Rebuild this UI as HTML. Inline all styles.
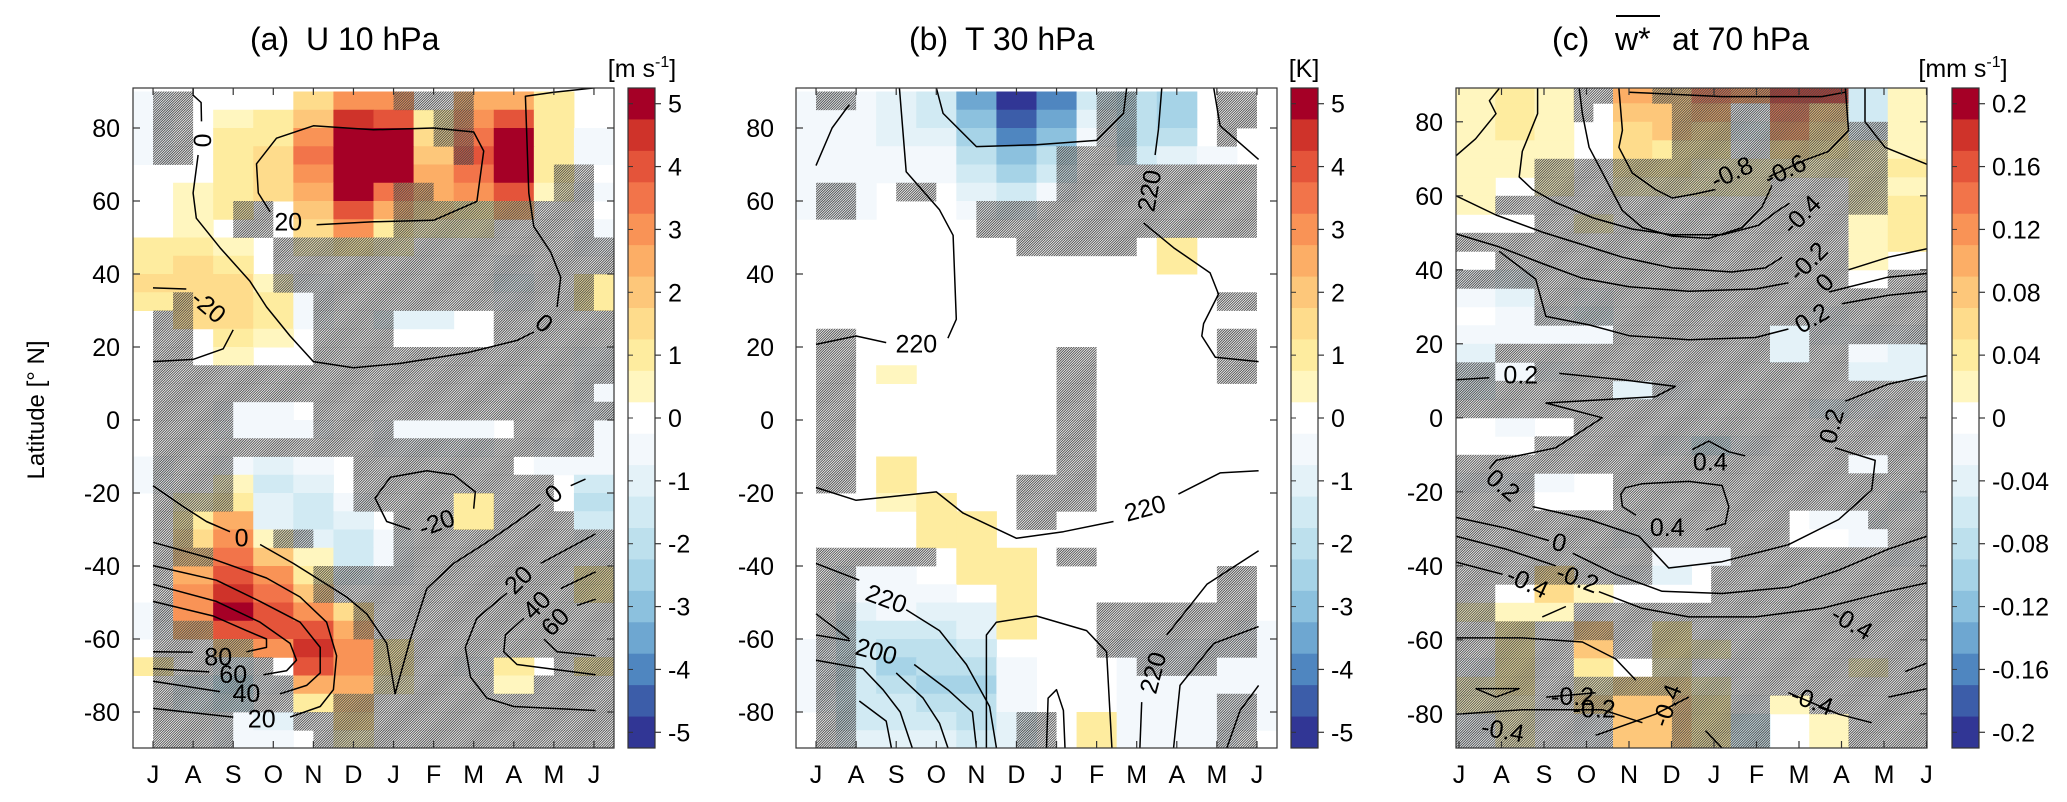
<!DOCTYPE html>
<html><head><meta charset="utf-8"><style>
html,body{margin:0;padding:0;background:#fff;}
svg{display:block;font-family:"Liberation Sans",Arial,sans-serif;}
</style></head><body>
<svg id="fig" width="2067" height="802" viewBox="0 0 2067 802" xmlns="http://www.w3.org/2000/svg">
<defs>
<pattern id="hatch" patternUnits="userSpaceOnUse" width="1.75" height="10" patternTransform="rotate(45)">
<rect x="0" y="0" width="0.95" height="10" fill="#4e4e4e"/>
</pattern>
<clipPath id="clipA"><rect x="133" y="88" width="481" height="660"/></clipPath>
<clipPath id="clipB"><rect x="796" y="88" width="481" height="660"/></clipPath>
<clipPath id="clipC"><rect x="1456" y="88" width="471" height="660"/></clipPath>
</defs>
<text x="0" y="0" font-size="24" text-anchor="middle" transform="translate(44,410) rotate(-90)">Latitude [° N]</text>
<g>
<text x="250" y="50" font-size="32">(a)</text>
<text x="306" y="50" font-size="32">U 10 hPa</text>
</g>
<g>
<text x="909" y="50" font-size="32">(b)</text>
<text x="965" y="50" font-size="32">T 30 hPa</text>
</g>
<g>
<text x="1552" y="50" font-size="32">(c)</text>
<text x="1615" y="50" font-size="32">w*</text>
<line x1="1616" y1="16" x2="1660" y2="16" stroke="#000" stroke-width="2"/>
<text x="1672" y="50" font-size="32">at 70 hPa</text>
</g>
<text x="642" y="77" font-size="25" text-anchor="middle">[m s<tspan font-size="16" dy="-10">-1</tspan><tspan dy="10">]</tspan></text>
<text x="1304" y="77" font-size="25" text-anchor="middle">[K]</text>
<text x="1963" y="77" font-size="25" text-anchor="middle">[mm s<tspan font-size="16" dy="-10">-1</tspan><tspan dy="10">]</tspan></text>
</svg>
<script>
// ---------- DATA ----------
const months = ['J','A','S','O','N','D','J','F','M','A','M','J'];
const latTicks = [80,60,40,20,0,-20,-40,-60,-80];
const cbTicksAB = [5,4,3,2,1,0,-1,-2,-3,-4,-5];
const cbTicksC = [0.2,0.16,0.12,0.08,0.04,0,-0.04,-0.08,-0.12,-0.16,-0.2];
const cbLabelsC = ['0.2','0.16','0.12','0.08','0.04','0','-0.04','-0.08','-0.12','-0.16','-0.2'];

// Panel (a) U anomaly [m/s], rows 90N->90S (5 deg), cols Jul..Jun
const uData = [
[-0.5,0,0,0,1.5,3,3,0,2.5,2.5,1,0],
[-0.5,0,0.5,1,2,4.5,4,1,3,4,1,0],
[-0.5,0,1,1,3,5,5,1.5,3.5,5,1,-0.5],
[-0.5,0,1,1.5,3.5,5,5,2,4,5,1,-0.5],
[0,0,1,1.5,3,5,5,2.5,3.5,5,1,0],
[0,0.5,1,1.5,2.5,5,3.5,2.5,3,4,0.5,-0.5],
[0,0.5,1,0,2,4,2.5,1.5,1,2.5,0,0],
[0,0.5,0,0,1.5,3,1,0.5,0.5,0,0,-0.5],
[1,1,0.5,0,0.5,1,0.5,0,0,0,0,-0.5],
[1,1.5,1,0,0,0,0,0,0,-0.5,0,0],
[1.5,1.5,1.5,0.5,-0.5,0,0,0,0,-1,0,1],
[1,1.5,1.5,1,-0.5,0,0,0,0,-0.5,0,1],
[0,1.5,1.5,1,-0.5,0,-1,-1,0,0,0,0],
[0,0,1,0.5,0,0,0,0,0,0,0,0],
[0,0,0.5,0,0,0,0,0,0,0,0,-0.5],
[0,0,0,0,0,0,0,0,0,0,0,-0.5],
[0,0,0,0,0,0,0,0,0,0,0,-0.5],
[0,0,-0.5,-0.5,0,0,0,0,0,0,0,-0.5],
[0,0,-0.5,-0.5,-0.5,0,-0.5,-0.5,-0.5,0,0,-0.5],
[0,0,0,0,0,0,-0.5,-0.5,-0.5,0,-0.5,-0.5],
[-0.5,0,-0.5,-1,-0.5,0,0,0,0,0,-0.5,-0.5],
[-0.5,0,0.5,-1.5,-1,0,0,0,0,0,0,-1.5],
[0,0.5,1,-1,-1.5,-0.5,0,0,1,0,0,-2],
[0,1,2.5,-1,-1.5,-1,0,0,1,0,0,-1.5],
[0,1.5,3,0.5,-1,-1.5,-0.5,0,0,0,0,-0.5],
[0,2,3.5,2,0.5,-1.5,-0.5,0,0,0,0,0],
[0,2.5,4,3,1,-1,-0.5,0,0,0,0,1],
[0,3,4.5,3.5,2,0,0,0,0,0,0,1],
[-0.5,3,5,4,3,1.5,0,0,0,0,0,0],
[-0.5,2.5,4,4,4,2.5,0,0,0,0,0,0],
[0,0,2,3,4.5,3,1,0,0,0,0,0],
[1,0,-1,0,4,3,1,0,-0.5,1,0,1],
[0,-1,-2,-0.5,2.5,2.5,0.5,0,0,0.5,0,0],
[0,-1,-1.5,0,1,2,0,0,0,0,0,0],
[0,0,-0.5,-1,0,1.5,0,0,0,0,0,0],
[0,0,-0.5,-0.5,0,0.5,0,0,0,0,0,0]
];
const uSig = [
"011000000000011110000000","011000000000000110000000","011000000000000110000000","011000000000000010000000",
"000000000000000000000110","000000000000011000000110","000001100000011111111110","000001100000011111111110",
"000000011111111111111111","000000011111111111111111","000000011111111111111110","001000000111111111111110",
"011000000111100000111111","011000000111100000111111","011000000111111111111111","011111111111111111111111",
"011111111111111111111110","011110000111111111111111","011110000111100000011110","011111111111111111111110",
"011110000001111111100000","011110000001111111111000","011110000001111100111000","011000000000011100111100",
"011000011000011111111111","011100000000011111111111","010000000111111111111111","010000000111111111111111",
"010000000001111111111111","011100000001111111111111","011111000000111111111111","011111100000111111000111",
"011111110000111111001111","011111110011111111111111","011110001111111111111111","011110000111111111111111"
];
// Panel (b) T anomaly [K]
const tData = [
[-0.5,-0.5,-1,-1.5,-3.5,-5,-4,-1.5,-2,-2.5,0,0],
[-0.5,-0.5,-1,-1.5,-3,-4.5,-3.5,-1,-2,-2.5,0,0],
[-0.5,-0.5,-1,-1,-2.5,-4,-3,-0.5,-2,-2,0,0],
[-0.5,-0.5,-0.5,-0.5,-2,-3,-2,0,-1.5,-1,-0.5,0],
[-0.5,-0.5,-0.5,-0.5,-1.5,-2.5,-1.5,0,0,0,0,0],
[-0.5,-0.5,0,0,-1,-1.5,-0.5,0,0,0,0,0],
[-0.5,-0.5,0,0,-0.5,-1,0,0,0,0,0,0],
[0,0,0,0,0,0,0,0,0,0,0,0],
[0,0,0,0,0,0,0,0,0,1,0,0],
[0,0,0,0,0,0,0,0,0,1,0,0],
[0,0,0,0,0,0,0,0,0,0,0,0],
[0,0,0,0,0,0,0,0,0,0,0,0],
[0,0,0,0,0,0,0,0,0,0,0,0],
[0,0,0,0,0,0,0,0,0,0,0,0],
[0,0,0,0,0,0,0,0,0,0,0,0],
[0,0,0.5,0,0,0,0,0,0,0,0,0],
[0,0,0,0,0,0,0,0,0,0,0,0],
[0,0,0,0,0,0,0,0,0,0,0,0],
[0,0,0,0,0,0,0,0,0,0,0,0],
[0,0,0,0,0,0,0,0,0,0,0,0],
[0,0,1,0,0,0,0,0,0,0,0,0],
[0,0,1,0,0,0,0,0,0,0,0,0],
[0,0,0.5,1,0,0,0,0,0,0,0,0],
[0,0,0,1,1,0,0,0,0,0,0,0],
[0,0,0,1,1,0,0,0,0,0,0,0],
[0,0,0,0,1,1,0,0,0,0,0,0],
[0,-0.5,-0.5,0,1,1,0,0,0,0,0,0],
[0,-0.5,-0.5,-0.5,0,1,0,0,0,0,0,0],
[0,-1,-0.5,-1,-1,1,0,0,0,0,0,0],
[0,-1.5,-1.5,-1.5,-1,1,0,0,0,0,0,-0.5],
[-0.5,-1.5,-2,-2,-1.5,0,0,0,-0.5,-0.5,-0.5,-0.5],
[-0.5,-1.5,-2.5,-2,-2,-0.5,0,0,-0.5,-0.5,-0.5,-0.5],
[-0.5,-1.5,-2,-2.5,-2.5,-0.5,0,0,-0.5,-0.5,-0.5,-0.5],
[-0.5,-1.5,-1.5,-2,-2,-0.5,0,0,-0.5,-0.5,-0.5,-0.5],
[0,-1.5,-1.5,-1.5,-2,-1,0,1,-0.5,-0.5,-0.5,-0.5],
[0,-1,-1,-1,-1.5,-1,0,1,-0.5,-0.5,-0.5,0]
];
const tSig = [
"011000000000000110000110","000000000000000110000110","000000000000000110000100","000000000000011110000000",
"000000000000011111111110","011001100000011111111110","011000000111111111111110","000000000111111111111110",
"000000000001111110000000","000000000000000000000000","000000000000000000000000","000000000000000000000110",
"000000000000000000000000","011000000000000000000110","011000000000011000000110","011000000000011000000110",
"011000000000011000000000","011000000000011000000000","011000000000011000000000","011000000000011000000000",
"011000000000011000000000","011000000001111000000000","000000000001111000000000","000000000001100000000000",
"000000000000000000000000","011111100000011000000000","011000000000000000000110","011000000000000000000110",
"011000000000000111111110","011000000000000111111110","011000000000000111111110","011000000000000001111000",
"011000000000000000000000","011000000000000000000110","011000000001100000000110","011000000001100000000110"
];
// Panel (c) w* anomaly [mm/s]
const wData = [
[0.02,0.04,0.02,0,0.10,0.08,0.14,0.12,0.18,0.18,-0.06,0.02],
[0.02,0.04,0.02,0,0.08,0.08,0.10,-0.02,0.14,0.08,-0.06,0.02],
[0.02,0.04,0.02,0,0.06,0.08,0.06,-0.04,0.12,0.06,-0.04,0.02],
[0.02,0.02,0.02,0,0.06,0.04,0.04,-0.02,0.06,0.04,0.02,0.02],
[0.02,0.02,0.02,0,0.04,0.04,0.02,0.02,0.02,0.02,0.02,0.04],
[0.02,0,0.02,0,0.02,0.02,0.02,0.02,0,0,0.02,0.02],
[0.02,0,0,0,0,0,0,0,0,0,0.02,0.04],
[0,0,0,0.02,0,0,0,0,0,0,0.02,0.04],
[0,0,0,0,0,0,0,0,0,0,0.02,0.04],
[0,0,0,0,0,0,0,0,0,0,0.02,0],
[-0.02,-0.04,0,0,0,0,0,0,0,0,0,0],
[-0.02,-0.04,0,-0.02,0,0,0,0,0,0,0,0],
[0,-0.02,-0.02,-0.04,0,0,0,0,0,-0.02,0,0],
[-0.02,-0.02,-0.02,-0.02,0,0,0,0,-0.04,-0.02,-0.02,-0.02],
[-0.04,0,0,0,0,0,0,0,-0.04,0,-0.02,-0.04],
[-0.04,-0.02,-0.02,0,0,0,0,0,0,0,-0.04,-0.04],
[-0.04,0,0,0,-0.04,-0.02,0,0,0,0,0,0],
[0,0,0,0,0,0,0,0,0,-0.04,-0.02,0],
[0,-0.02,0,0,0,0,0,0,0,0,0,0],
[0,0,0,0,0,-0.02,-0.06,-0.02,0,0,0,0],
[0,0,0,0,0,0,0,0,0,0,-0.02,0],
[-0.02,-0.02,-0.02,0,0,0,0,0,0,0,0,0],
[0,0,0,0,0,0,0,0,0,0,0,-0.02],
[0,0,0,0,0,0,0,0,0,-0.02,-0.02,0],
[0,0,0,0,-0.02,0,0,0,0,0,-0.02,0],
[0,0,0,0,0,-0.02,-0.02,0,0,0,0,-0.02],
[0,0,0.06,0,-0.02,-0.04,0,0,0,0,0,0],
[0,0,0.06,0.02,0,0,0,0,0,0,0,0],
[0.02,0.02,0.02,0,0,0,0,0,0,0,0,0],
[0,0.04,0,0.08,0,0.04,0,0,0,0,0,0],
[0,0.04,0,0.08,0,0.04,0.02,0,0,0,0,0],
[-0.02,0.04,0,0.04,0,0.02,0,0,0,0,0.02,0],
[0.02,0.04,0,0.02,0.06,0.06,0.02,0,0,0,0,0],
[0.02,0.02,0,0.06,0.08,0.08,0.04,-0.02,0.02,0,0,0],
[-0.02,0.02,0,-0.02,0.08,0.08,0.04,-0.06,0,0.02,0,0],
[-0.02,0.02,0,-0.02,0.08,0.08,0.04,-0.06,0,0.02,0,0]
];
const wSig = [
"000000110011111111110000","000000100001111111110000","000000000001111111111100","000000000001111111111100",
"000011111111111111111100","000011111111111111111100","001111111111111111111100","000011111111111111110000",
"111111111111111111110000","001111111111111111110000","111111111111111111110011","000011111111111111111111",
"000011111111111111111111","000000001111111100111111","001111111111111100110000","110011111111111111110000",
"111111110011111111111111","111111111111111111111111","000000111111111111111111","000011111111111111111111",
"111111111111111111110011","111100001111111111111111","111100001111111111111111","111111111111111110000111",
"111111111111111110000011","111111111100001111111111","111111111100011111111111","110000000000011111111111",
"110000111111111111111111","111111111111111111111111","111111001111111111111111","111111000011111111111111",
"111111111111111111111111","111111110001111100111111","111111110001111100001111","111111110001111100001111"
];

// Contours: polylines of [monthIndex, latitude]
const uContours = [
[[1,91],[1.0,89],[1.2,87],[1.21,81.8]],
[[1.125,72.6],[1,62.2],[1.08,55.3],[1.67,47.2],[2.42,38],[2.83,31],[3.42,23],[4,16],[5,14.3],[6.17,15.5],[7.83,18.4],[9.08,21.8],[9.5,24.1]],
[[10.08,31],[10.17,39.1],[9.92,46],[9.5,53],[9.375,62.2],[9.29,88.7],[10,89.8],[11.04,91]],
[[4.08,53.5],[5.5,54.3],[7,54.7],[8.08,59.9],[8.25,73.7],[8,78.9],[7,80],[5.5,79.5],[4,80.6],[3.08,77.2],[2.58,70.2],[2.625,62.2],[2.92,57]],
[[0,36.2],[0.83,35.9]],
[[2,24.7],[1.75,19.5],[1,16.6],[0,16]],
[[0,-18],[0.75,-23.7],[1.33,-27.8],[1.92,-30.6]],
[[2.67,-34.1],[3.5,-39.3],[4.08,-43.3],[4.83,-48.5],[5.33,-53.1],[5.83,-61.2],[6.04,-75],[6.42,-60],[6.83,-46.2],[7.5,-39.3],[8.33,-33.5],[9.08,-27.8],[9.67,-23.1]],
[[10.42,-18],[10.79,-16.2]],
[[8,-24.3],[8.04,-19.7],[7.5,-15],[6.83,-13.9],[5.92,-15.7],[5.54,-21.4],[5.83,-27.8],[6.42,-30]],
[[0,-33.5],[1.5,-38.1],[2.83,-43.3],[3.67,-48.5],[4.33,-55.4],[4.58,-64.6],[4.5,-73.9],[4.17,-78.5],[3.42,-81.4]],
[[2,-81.4],[0,-79]],
[[0,-39.9],[1.58,-43.9],[2.67,-49.7],[3.67,-55.4],[4.17,-62.3],[4.17,-69.3],[3.83,-72.7],[3.17,-75]],
[[1.67,-74.4],[0,-71.6]],
[[0,-45],[1.58,-49.7],[2.67,-55.4],[3.42,-61.2],[3.58,-65.8],[3.33,-68.7],[2.75,-69.8]],
[[1.4,-69],[0,-68.1]],
[[0,-49.7],[1.5,-53.7],[2.33,-57.7],[2.83,-60],[2.83,-62.3],[2.33,-63.5]],
[[1.0,-63.6],[0,-63.5]],
[[9.67,-39.3],[11.04,-31.2]],
[[8.83,-47.4],[8.08,-54.3],[7.79,-62.3],[7.92,-70.4],[8.33,-76.2],[9,-78.5],[11.04,-79.6]],
[[10.17,-46.2],[11.04,-41.6]],
[[9.25,-54.3],[8.79,-58.9],[8.75,-63.5],[9.08,-67],[11.04,-69.8]],
[[10.58,-50.8],[11.04,-49.1]],
[[9.75,-60],[10.08,-63.5],[11.04,-64.6]]
];
const uLabels = [["0",1.21,76.6,90],["20",3.375,54.1,0],["-20",1.375,31,40],["0",9.75,26.4,40],["0",2.21,-32.4,0],
["-20",7.08,-28.3,-20],["0",10,-20.3,-40],["20",9.125,-43.9,-45],["40",9.58,-50.8,-45],["60",10.04,-55.4,-45],
["80",1.625,-65.1,0],["60",2,-69.8,0],["40",2.33,-75,0],["20",2.71,-82,0]];

const tContours = [
[[0,69.7],[0.4,80],[0.83,86.4]],
[[2.08,91],[2.25,68],[3.08,57.6],[3.42,50.6],[3.5,27.6],[3.29,22.4]],
[[1.75,21.2],[1,23],[0,20.7]],
[[3,91],[3.17,84],[4,74.9],[5.5,75.4],[7,76.6],[7.67,84],[7.75,91]],
[[8.625,91],[8.54,79.5],[8.46,72.6]],
[[8.17,54],[8.92,47.2],[9.83,40.3],[10.04,34.5],[9.67,26.4],[9.625,23],[9.96,17.2],[11.04,16]],
[[9.92,91],[10.08,80.6],[11.04,71.4]],
[[0,-18.5],[1,-22],[3,-19.7],[3.67,-25.5],[5,-32.4],[6.17,-30.6],[7.42,-27.8]],
[[9.04,-20.3],[10.08,-14.5],[11.04,-13.9]],
[[0,-39.3],[1.08,-43.9]],
[[2.25,-52],[3.08,-57.7],[3.75,-67],[4.33,-78.5],[4.5,-89.8]],
[[0,-53.1],[0.83,-60]],
[[2,-69.3],[2.67,-76.2],[3.08,-83.1],[3.29,-89.8]],
[[0,-58.9],[0.85,-60.5]],
[[0,-65.8],[1.17,-68.1],[1.67,-73.9],[2.1,-80],[2.4,-89.8]],
[[2.45,-67],[3.3,-74],[3.9,-80],[4.0,-89.8]],
[[1.08,-77],[1.75,-82.5],[1.88,-89.8]],
[[4.25,-89.8],[4.25,-58.9],[4.5,-55.4],[5.5,-53.7],[6.75,-57.7],[7.25,-63.5],[7.38,-89.8]],
[[5.75,-89.8],[5.79,-76.2],[6,-73.9],[6.17,-79.6],[6.21,-89.8]],
[[8.75,-58.9],[9.75,-45],[11.04,-35.8]],
[[8.125,-77.3],[8.08,-89.8]],
[[8.92,-89.8],[9.08,-72.7],[9.92,-61.2],[11.04,-56.6]],
[[10.25,-89.8],[10.58,-79.6],[11.04,-72.7]]
];
const tLabels = [["220",2.5,20.7,0],["220",8.33,62.8,-80],["220",8.21,-24.3,-15],["220",1.75,-49.1,20],["200",1.5,-63.5,15],["220",8.42,-69.3,-75]];

const wContours = [
[[-0.5,70.8],[0,75.4],[0.52,82.2],[0.35,85.7],[0.6,89]],
[[1.58,89],[1.58,82.2],[1.19,72],[1.11,65.1],[1.45,61.7],[2.04,58.2],[3.0,54],[4.0,51],[5.0,49.5],[6.3,49.5],[7.2,52],[7.7,56],[8.0,58]],
[[2.64,89],[2.72,82.2],[2.89,73.1],[3.4,62.8],[3.74,56],[4.25,51.4],[5.01,49.1],[5.94,48.5],[6.79,51.4],[7.3,57.1],[7.55,62.8]],
[[3.65,89],[3.74,77.7],[3.65,73.1],[3.99,66.2],[4.58,61.7],[5.01,59.4],[5.6,60.5],[6.11,61.7]],
[[7.47,65.1],[8.4,69.7],[8.99,72],[9.5,77.7],[9.42,89]],
[[3.91,88],[6.28,86.8],[8.82,86.8],[9.42,88]],
[[9.92,89],[9.92,80],[10.43,73.1],[11.5,68.5]],
[[9.5,40],[10.52,43.4],[11.5,45.7]],
[[-0.5,60],[0.52,54.8],[1.7,50.2],[2.72,46.8],[3.74,43.4],[5.01,40.5],[6.53,39.4],[7.38,40.5],[7.81,43.4]],
[[-0.5,49.7],[0.6,46.2],[1.7,41.7],[2.72,37.7],[3.91,35.4],[5.43,34.2],[7.13,34.8],[7.97,36.5]],
[[0.6,45],[1.53,37.5],[1.79,27.4],[2.89,25.1],[3.91,22.2],[5.43,21.1],[7.13,21.7],[7.97,24]],
[[9.33,30.8],[10.52,33.1],[11.5,34.2]],
[[9.0,34],[10.5,38],[11.5,39]],
[[-0.5,10.3],[0.35,10.8]],
[[2.13,12],[3.74,10.3],[5.09,8.5],[4.58,5.7],[1.79,4],[3.23,0],[2.04,-8.1],[0.52,-11.5],[0.35,-13.8]],
[[5.52,-8.6],[5.94,-6.3],[6.45,-9.2],[6.87,-10.3]],
[[5.86,-30.3],[6.36,-28.6],[6.45,-24],[6.28,-18.3],[5.43,-17.2],[4.25,-17.8],[3.82,-18.9],[3.7,-20.6],[3.74,-24],[4.08,-26.3]],
[[1.45,-24],[2.89,-27.5],[4.16,-32],[4.92,-40.6],[6.28,-38.9],[7.97,-34.3],[9.25,-27.5],[10.09,-19.5],[10.18,-11.5],[9.16,-8.1]],
[[9.42,4.5],[10.52,9.1],[11.5,11.4]],
[[-0.5,-26.9],[0.77,-29.8],[1.87,-33.2]],
[[2.47,-36.6],[3.57,-42.3],[4.75,-46.9],[6.28,-47.5],[7.97,-45.8],[9.25,-41.2],[10.52,-35.5],[11.5,-32]],
[[-0.5,-32],[0.77,-35.5],[2.04,-40]],
[[3.14,-47],[4.25,-51.5],[5.43,-53.8],[7.13,-53.8],[8.82,-51.5],[10.52,-46.9],[11.5,-44.6]],
[[-0.5,-39],[0.69,-42.3]],
[[1.7,-53.8],[2.3,-51]],
[[-0.5,-59.5],[1.19,-59.5],[2.72,-60.6],[3.57,-65.2],[4.08,-70.9]],
[[0,-73.2],[1.11,-73.2],[0.52,-75.5],[0,-73.2]],
[[1.8,-75.5],[3.06,-74.3]],
[[-0.5,-80.1],[1.19,-78.9],[3.23,-78.9],[4.25,-82.4]],
[[3.06,-85.8],[4.58,-80.1],[5.43,-75.5]],
[[7.97,-74.3],[9.25,-80.1],[10.09,-82.4]],
[[10.94,-68.6],[11.5,-66.3]],
[[10.52,-75.5],[11.5,-73.2]],
[[5.86,-84.6],[6.28,-89.3]]
];
const wLabels = [["-0.8",6.53,66.2,-25],["-0.6",7.89,66.8,-25],["-0.4",8.31,54.8,-45],["-0.2",8.48,42.2,-45],["0",8.9,36.5,-45],
["0.2",8.57,26.8,-30],["0.2",1.15,11.4,0],["0.2",9.08,-2.3,-75],["0.4",5.98,-12.1,0],["0.2",0.69,-18.3,40],["0.4",4.88,-29.8,0],
["0",2.13,-33.8,15],["-0.2",2.59,-43.5,20],["-0.4",1.32,-44.6,25],["-0.4",9.58,-55.5,30],["-0.2",2.47,-75.5,0],["-0.2",3.02,-78.9,0],
["-0.4",0.69,-84.6,10],["-0.4",4.88,-77.8,-70],["-0.4",8.57,-76.6,20]];

// ---------- RENDER ----------
const NS = 'http://www.w3.org/2000/svg';
const svg = document.getElementById('fig');
const posCols = ['#ffffff','#fff6bf','#feec9f','#fedc8c','#fdc77a','#fcae66','#f99356','#f2744a','#e4543a','#cf332a','#a50026'];
const negCols = ['#ffffff','#f3f8fc','#e4f2f8','#d1eaf3','#bde0ed','#a6d3e7','#8cc1de','#6ea7d1','#4f86c0','#3c5da9','#313695'];
function colorFor(band){ band=Math.max(-10,Math.min(10,band)); return band>=0?posCols[band]:negCols[-band]; }
function el(tag, attrs, parent){ const e=document.createElementNS(NS,tag); for(const k in attrs) e.setAttribute(k,attrs[k]); (parent||svg).appendChild(e); return e; }

const panels = [
 {key:'a', x0:133, w:481, data:uData, sig:uSig, step:0.5, cont:uContours, labs:uLabels, clip:'clipA',
  yOf:lat=>128+(80-lat)*3.65, cb:{x:628,w:27}, ticksCB:cbTicksAB, labsCB:cbTicksAB.map(String), maxv:5.25, tickLabGap:13, xTick:k=>133+(k+0.5)*481/12},
 {key:'b', x0:796, w:481, data:tData, sig:tSig, step:0.5, cont:tContours, labs:tLabels, clip:'clipB',
  yOf:lat=>128+(80-lat)*3.65, cb:{x:1291,w:27}, ticksCB:cbTicksAB, labsCB:cbTicksAB.map(String), maxv:5.25, tickLabGap:22, xTick:k=>796+(k+0.5)*481/12},
 {key:'c', x0:1456, w:471, data:wData, sig:wSig, step:0.02, cont:wContours, labs:wLabels, clip:'clipC',
  yOf:lat=>121.8+(80-lat)*3.7, cb:{x:1952,w:27}, ticksCB:cbTicksC, labsCB:cbLabelsC, maxv:0.21, tickLabGap:13, xTick:k=>1456+3+k*42.5}
];
const Y0=88, Y1=748;

panels.forEach(p=>{
  const cw=p.w/12;
  const xOf=m=>p.x0+(m+0.5)*cw;
  const g=el('g',{'clip-path':'url(#'+p.clip+')'});
  
  
  p.data.forEach((row,r)=>{
    const yt=Math.max(Y0,p.yOf(90-5*r)), yb=Math.min(Y1,p.yOf(85-5*r));
    if(yb<=yt) return;
    row.forEach((v,c)=>{
      const band=Math.round(v/p.step);
      if(band===0) return;
      const rc=el('rect',{x:(p.x0+c*cw).toFixed(2),y:yt.toFixed(2),width:(cw+0.5).toFixed(2),height:(yb-yt+0.5).toFixed(2),fill:colorFor(band)},g);
      
      
    });
  });
  const hw=cw/2;
  p.sig.forEach((s,r)=>{
    const yt=Math.max(Y0,p.yOf(90-5*r)), yb=Math.min(Y1,p.yOf(85-5*r));
    if(yb<=yt) return;
    let k=0;
    while(k<s.length){
      if(s[k]==='1'){ let e=k; while(e<s.length&&s[e]==='1') e++;
        const h=el('rect',{x:(p.x0+k*hw).toFixed(2),y:yt.toFixed(2),width:((e-k)*hw).toFixed(2),height:(yb-yt+0.4).toFixed(2),fill:'url(#hatch)'},g);
        
        
        k=e; } else k++;
    }
  });
  p.cont.forEach(line=>{
    const d=line.map((pt,i)=>(i?'L':'M')+xOf(pt[0]).toFixed(1)+','+p.yOf(pt[1]).toFixed(1)).join('');
    const pl=el('path',{d:d,fill:'none',stroke:'#000','stroke-width':1.5,'stroke-linejoin':'round'},g);
    
    
  });
  p.labs.forEach(L=>{
    const x=xOf(L[1]), y=p.yOf(L[2]);
    const t=el('text',{x:0,y:0,'font-size':25,'text-anchor':'middle','dominant-baseline':'central',transform:'translate('+x.toFixed(1)+','+y.toFixed(1)+') rotate('+L[3]+')'},g);
    
    
    t.textContent=L[0];
  });
  const ax=el('g',{});
  
  
  el('rect',{x:p.x0,y:Y0,width:p.w,height:Y1-Y0,fill:'none',stroke:'#333','stroke-width':1.2},ax);
  latTicks.forEach(lat=>{
    const y=p.yOf(lat);
    el('line',{x1:p.x0,y1:y,x2:p.x0+7,y2:y,stroke:'#333','stroke-width':1.2},ax);
    el('line',{x1:p.x0+p.w,y1:y,x2:p.x0+p.w-7,y2:y,stroke:'#333','stroke-width':1.2},ax);
    const t=el('text',{x:p.x0-p.tickLabGap,y:y+9,'font-size':25,'text-anchor':'end'},ax);
    
    
    t.textContent=String(lat);
  });
  months.forEach((mn,k)=>{
    const x=p.xTick(k);
    el('line',{x1:x,y1:Y0,x2:x,y2:Y0+7,stroke:'#333','stroke-width':1.2},ax);
    el('line',{x1:x,y1:Y1,x2:x,y2:Y1-7,stroke:'#333','stroke-width':1.2},ax);
    const t=el('text',{x:x,y:783,'font-size':25,'text-anchor':'middle'},ax);
    
    
    t.textContent=mn;
  });
  const cb=el('g',{});
  
  
  const bh=(Y1-Y0)/21;
  for(let i=0;i<21;i++){
    const band=10-i;
    el('rect',{x:p.cb.x,y:(Y0+i*bh).toFixed(2),width:p.cb.w,height:(bh+0.5).toFixed(2),fill:colorFor(band)},cb);
  }
  el('rect',{x:p.cb.x,y:Y0,width:p.cb.w,height:Y1-Y0,fill:'none',stroke:'#333','stroke-width':1.2},cb);
  p.ticksCB.forEach((v,i)=>{
    const y=Y0+(p.maxv-v)/(2*p.maxv)*(Y1-Y0);
    el('line',{x1:p.cb.x+p.cb.w,y1:y,x2:p.cb.x+p.cb.w+6,y2:y,stroke:'#333','stroke-width':1.2},cb);
    el('line',{x1:p.cb.x,y1:y,x2:p.cb.x+5,y2:y,stroke:'#333','stroke-width':1},cb);
    const t=el('text',{x:p.cb.x+p.cb.w+13,y:y+9,'font-size':25},cb);
    
    
    t.textContent=p.labsCB[i];
  });
});
</script>
</body></html>
